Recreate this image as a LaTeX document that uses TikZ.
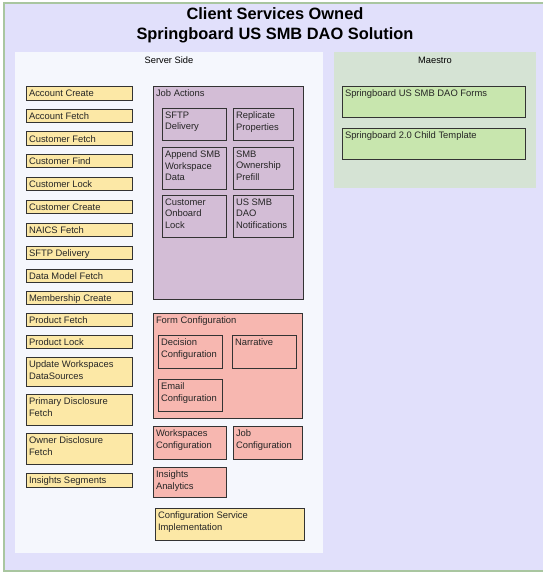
\documentclass[tikz,border=0pt]{standalone}
\usepackage{fontspec}
\setmainfont{Liberation Sans}
\definecolor{outerfill}{HTML}{E1E0FB}
\definecolor{outerline}{HTML}{A9C6A0}
\definecolor{serverfill}{HTML}{F5F7FD}
\definecolor{maestrofill}{HTML}{D5E3D4}
\definecolor{yellowfill}{HTML}{FCE8A6}
\definecolor{purplefill}{HTML}{D3BDD6}
\definecolor{pinkfill}{HTML}{F7B7B0}
\definecolor{greenfill}{HTML}{C8E6AE}
\definecolor{boxline}{HTML}{333333}
\begin{document}
\begin{tikzpicture}[x=1pt,y=-1pt,
    lbl/.style={anchor=north west,inner xsep=2.8pt,inner ysep=3.9pt,align=left,
      font=\fontsize{9.4}{11.3}\selectfont,text=black!85},
    blk/.style={draw=boxline,line width=1.1pt,anchor=north west,inner sep=0pt},
    ybox/.style={blk,fill=yellowfill},
    pbox/.style={blk,fill=purplefill},
    rbox/.style={blk,fill=pinkfill},
    gbox/.style={blk,fill=greenfill},
    head/.style={anchor=base,font=\fontsize{9.3}{11.3}\selectfont}]
  \useasboundingbox (0,0) rectangle (543,574);
  \clip (0,0) rectangle (543,574);
  % frame and panels
  \draw[fill=outerfill,draw=outerline,line width=1.6pt] (4,3) rectangle (552,571);
  \fill[serverfill] (15,52) rectangle (323,553);
  \fill[maestrofill] (334,52) rectangle (536,188);
  \node[anchor=base,font=\bfseries\fontsize{16.4}{20}\selectfont] (title1) at (275,19.5) {Client Services Owned};
  \node[anchor=base,font=\bfseries\fontsize{16.4}{20}\selectfont] (title2) at (275,39.5) {Springboard US SMB DAO Solution};
  \node[head] (server) at (169,63) {Server Side};
  \node[head] (maestro) at (435,63) {Maestro};
  % server side services
  \node[ybox,minimum width=106,minimum height=13.3,label={[lbl]north west:Account Create}] (acctcreate) at (26,86.3) {};
  \node[ybox,minimum width=106,minimum height=13.3,label={[lbl]north west:Account Fetch}] (acctfetch) at (26,108.7) {};
  \node[ybox,minimum width=106,minimum height=13.3,label={[lbl]north west:Customer Fetch}] (custfetch) at (26,131.3) {};
  \node[ybox,minimum width=106,minimum height=13.3,label={[lbl]north west:Customer Find}] (custfind) at (26,154) {};
  \node[ybox,minimum width=106,minimum height=13.3,label={[lbl]north west:Customer Lock}] (custlock) at (26,177) {};
  \node[ybox,minimum width=106,minimum height=13.3,label={[lbl]north west:Customer Create}] (custcreate) at (26,200) {};
  \node[ybox,minimum width=106,minimum height=13.3,label={[lbl]north west:NAICS Fetch}] (naics) at (26,223) {};
  \node[ybox,minimum width=106,minimum height=13.3,label={[lbl]north west:SFTP Delivery}] (sftp) at (26,246) {};
  \node[ybox,minimum width=106,minimum height=13.3,label={[lbl]north west:Data Model Fetch}] (datamodel) at (26,268.5) {};
  \node[ybox,minimum width=106,minimum height=13.3,label={[lbl]north west:Membership Create}] (membership) at (26,291) {};
  \node[ybox,minimum width=106,minimum height=13.3,label={[lbl]north west:Product Fetch}] (prodfetch) at (26,313) {};
  \node[ybox,minimum width=106,minimum height=13.3,label={[lbl]north west:Product Lock}] (prodlock) at (26,334.5) {};
  \node[ybox,minimum width=106,minimum height=29,label={[lbl]north west:Update Workspaces\\DataSources}] (updws) at (26,357) {};
  \node[ybox,minimum width=106,minimum height=31,label={[lbl]north west:Primary Disclosure\\Fetch}] (primdisc) at (26,394) {};
  \node[ybox,minimum width=106,minimum height=31,label={[lbl]north west:Owner Disclosure\\Fetch}] (owndisc) at (26,433) {};
  \node[ybox,minimum width=106,minimum height=14,label={[lbl]north west:Insights Segments}] (insseg) at (26,473) {};
  % job actions
  \node[pbox,minimum width=150,minimum height=213,label={[lbl]north west:Job Actions}] (jobactions) at (153,86) {};
  \node[pbox,minimum width=64,minimum height=32,label={[lbl]north west:SFTP\\Delivery}] (sftpjob) at (162,108) {};
  \node[pbox,minimum width=60,minimum height=32,label={[lbl]north west:Replicate\\Properties}] (replicate) at (233,108) {};
  \node[pbox,minimum width=64,minimum height=42,label={[lbl]north west:Append SMB\\Workspace\\Data}] (appendsmb) at (162,147) {};
  \node[pbox,minimum width=60,minimum height=42,label={[lbl]north west:SMB\\Ownership\\Prefill}] (ownprefill) at (233,147) {};
  \node[pbox,minimum width=64,minimum height=42,label={[lbl]north west:Customer\\Onboard\\Lock}] (onboardlock) at (162,195) {};
  \node[pbox,minimum width=60,minimum height=42,label={[lbl]north west:US SMB\\DAO\\Notifications}] (notifications) at (233,195) {};
  % form configuration
  \node[rbox,minimum width=149,minimum height=105,label={[lbl]north west:Form Configuration}] (formconf) at (153,313) {};
  \node[rbox,minimum width=64,minimum height=33,label={[lbl]north west:Decision\\Configuration}] (decision) at (158,335) {};
  \node[rbox,minimum width=64,minimum height=33,label={[lbl]north west:Narrative}] (narrative) at (232,335) {};
  \node[rbox,minimum width=64,minimum height=32,label={[lbl]north west:Email\\Configuration}] (email) at (158,379) {};
  \node[rbox,minimum width=73,minimum height=33,label={[lbl]north west:Workspaces\\Configuration}] (wsconf) at (153,426) {};
  \node[rbox,minimum width=69,minimum height=33,label={[lbl]north west:Job\\Configuration}] (jobconf) at (233,426) {};
  \node[rbox,minimum width=73,minimum height=30,label={[lbl]north west:Insights\\Analytics}] (analytics) at (153,467) {};
  \node[ybox,minimum width=149,minimum height=32,label={[lbl]north west:Configuration Service\\Implementation}] (confservice) at (155,508) {};
  % maestro
  \node[gbox,minimum width=183,minimum height=31,label={[lbl]north west:Springboard US SMB DAO Forms}] (daoforms) at (342,86) {};
  \node[gbox,minimum width=183,minimum height=31,label={[lbl]north west:Springboard 2.0 Child Template}] (childtpl) at (342,128) {};
\end{tikzpicture}
\end{document}
